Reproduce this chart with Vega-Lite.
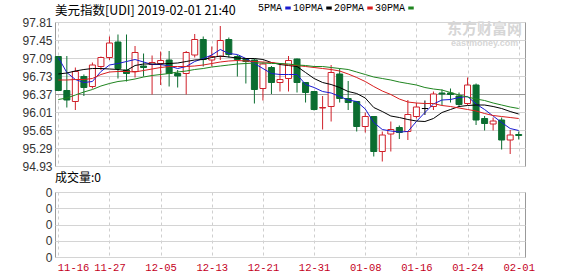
{
  "$schema": "https://vega.github.io/schema/vega-lite/v6.json",
  "autosize": {"type": "none"},
  "padding": {"left": 55, "top": 22, "right": 523, "bottom": 254},
  "background": "white",
  "title": {"text": "美元指数[UDI] 2019-02-01 21:40", "anchor": "start", "frame": "group", "font": "Noto Sans CJK SC", "fontSize": 12.5, "fontWeight": "normal", "color": "#000", "offset": 2, "dy": 16},
  "config": {
    "view": {"stroke": "#999", "strokeWidth": 1},
    "axis": {"labelFont": "Liberation Sans", "labelFontSize": 12, "labelColor": "#333", "ticks": false, "domain": false, "gridColor": "#d4d4d4", "title": null, "labelOverlap": false}
  },
  "datasets": {
    "one": [{"w": 1}],
    "k": [
      {"d":"11-16","o":97.12,"c":96.44,"h":97.12,"l":96.43,"m5":97.10,"m10":96.77,"m20":96.65,"m30":96.26,"v":0},
      {"d":"11-19","o":96.44,"c":96.25,"h":97.13,"l":96.10,"m5":96.80,"m10":96.79,"m20":96.65,"m30":96.29,"v":0},
      {"d":"11-20","o":96.22,"c":96.82,"h":96.90,"l":96.05,"m5":96.66,"m10":96.83,"m20":96.66,"m30":96.35,"v":0},
      {"d":"11-21","o":96.72,"c":96.50,"h":96.76,"l":96.33,"m5":96.60,"m10":96.86,"m20":96.66,"m30":96.41,"v":0},
      {"d":"11-23","o":96.52,"c":96.95,"h":97.00,"l":96.48,"m5":96.62,"m10":96.88,"m20":96.68,"m30":96.46,"v":0},
      {"d":"11-26","o":96.92,"c":97.10,"h":97.12,"l":96.85,"m5":96.82,"m10":96.88,"m20":96.76,"m30":96.53,"v":0},
      {"d":"11-27","o":97.10,"c":97.39,"h":97.52,"l":97.05,"m5":96.95,"m10":96.87,"m20":96.81,"m30":96.58,"v":0},
      {"d":"11-28","o":97.41,"c":96.88,"h":97.56,"l":96.68,"m5":96.98,"m10":96.86,"m20":96.82,"m30":96.62,"v":0},
      {"d":"11-29","o":96.85,"c":96.78,"h":97.56,"l":96.62,"m5":97.02,"m10":96.84,"m20":96.82,"m30":96.64,"v":0},
      {"d":"11-30","o":96.82,"c":97.20,"h":97.33,"l":96.70,"m5":97.06,"m10":96.94,"m20":96.81,"m30":96.67,"v":0},
      {"d":"12-03","o":96.93,"c":96.90,"h":97.18,"l":96.72,"m5":97.01,"m10":96.97,"m20":96.84,"m30":96.71,"v":0},
      {"d":"12-04","o":96.96,"c":97.00,"h":97.14,"l":96.36,"m5":96.96,"m10":96.97,"m20":96.87,"m30":96.74,"v":0},
      {"d":"12-05","o":96.98,"c":97.04,"h":97.22,"l":96.55,"m5":96.96,"m10":96.97,"m20":96.90,"m30":96.76,"v":0},
      {"d":"12-06","o":97.05,"c":96.78,"h":97.23,"l":96.52,"m5":96.93,"m10":96.98,"m20":96.92,"m30":96.78,"v":0},
      {"d":"12-07","o":96.78,"c":96.73,"h":96.85,"l":96.50,"m5":96.88,"m10":96.99,"m20":96.92,"m30":96.81,"v":0},
      {"d":"12-10","o":96.78,"c":97.20,"h":97.23,"l":96.36,"m5":96.92,"m10":97.02,"m20":96.92,"m30":96.83,"v":0},
      {"d":"12-11","o":97.15,"c":97.46,"h":97.57,"l":97.10,"m5":97.02,"m10":97.05,"m20":96.93,"m30":96.86,"v":0},
      {"d":"12-12","o":97.46,"c":97.06,"h":97.52,"l":96.92,"m5":97.08,"m10":97.06,"m20":96.95,"m30":96.88,"v":0},
      {"d":"12-13","o":97.05,"c":97.12,"h":97.32,"l":96.92,"m5":97.15,"m10":97.10,"m20":96.98,"m30":96.91,"v":0},
      {"d":"12-14","o":97.12,"c":97.44,"h":97.73,"l":97.05,"m5":97.26,"m10":97.13,"m20":97.01,"m30":96.93,"v":0},
      {"d":"12-17","o":97.46,"c":97.16,"h":97.50,"l":97.10,"m5":97.18,"m10":97.11,"m20":97.03,"m30":96.95,"v":0},
      {"d":"12-18","o":97.12,"c":97.06,"h":97.15,"l":96.72,"m5":97.16,"m10":97.09,"m20":97.04,"m30":96.97,"v":0},
      {"d":"12-19","o":97.06,"c":97.02,"h":97.07,"l":96.58,"m5":97.08,"m10":97.08,"m20":97.03,"m30":96.98,"v":0},
      {"d":"12-20","o":97.05,"c":96.46,"h":97.08,"l":96.18,"m5":96.98,"m10":97.08,"m20":97.02,"m30":96.99,"v":0},
      {"d":"12-21","o":96.48,"c":96.97,"h":97.00,"l":96.24,"m5":96.88,"m10":97.06,"m20":97.01,"m30":96.99,"v":0},
      {"d":"12-24","o":96.90,"c":96.60,"h":96.93,"l":96.37,"m5":96.78,"m10":97.00,"m20":97.00,"m30":96.98,"v":0},
      {"d":"12-25","o":96.60,"c":96.66,"h":96.95,"l":96.42,"m5":96.76,"m10":96.96,"m20":96.98,"m30":96.98,"v":0},
      {"d":"12-26","o":96.68,"c":97.04,"h":97.13,"l":96.42,"m5":96.76,"m10":96.94,"m20":96.95,"m30":96.97,"v":0},
      {"d":"12-27","o":97.07,"c":96.60,"h":97.08,"l":96.40,"m5":96.76,"m10":96.92,"m20":96.94,"m30":96.95,"v":0},
      {"d":"12-28","o":96.60,"c":96.40,"h":96.60,"l":96.20,"m5":96.56,"m10":96.80,"m20":96.92,"m30":96.94,"v":0},
      {"d":"12-31","o":96.42,"c":96.06,"h":96.43,"l":96.04,"m5":96.50,"m10":96.68,"m20":96.90,"m30":96.92,"v":0},
      {"d":"01-01","o":96.09,"c":96.10,"h":96.33,"l":95.66,"m5":96.42,"m10":96.60,"m20":96.88,"m30":96.92,"v":0},
      {"d":"01-02","o":96.12,"c":96.80,"h":96.95,"l":95.82,"m5":96.39,"m10":96.56,"m20":96.86,"m30":96.90,"v":0},
      {"d":"01-03","o":96.77,"c":96.28,"h":96.88,"l":96.20,"m5":96.32,"m10":96.50,"m20":96.83,"m30":96.88,"v":0},
      {"d":"01-04","o":96.28,"c":96.20,"h":96.63,"l":96.05,"m5":96.25,"m10":96.42,"m20":96.77,"m30":96.86,"v":0},
      {"d":"01-07","o":96.22,"c":95.72,"h":96.22,"l":95.62,"m5":96.22,"m10":96.38,"m20":96.70,"m30":96.81,"v":0},
      {"d":"01-08","o":95.72,"c":95.92,"h":96.00,"l":95.60,"m5":96.07,"m10":96.29,"m20":96.62,"m30":96.76,"v":0},
      {"d":"01-09","o":95.92,"c":95.22,"h":95.93,"l":95.12,"m5":95.80,"m10":96.10,"m20":96.52,"m30":96.71,"v":0},
      {"d":"01-10","o":95.22,"c":95.55,"h":95.62,"l":95.02,"m5":95.66,"m10":96.02,"m20":96.43,"m30":96.68,"v":0},
      {"d":"01-11","o":95.57,"c":95.66,"h":95.82,"l":95.22,"m5":95.63,"m10":95.93,"m20":96.36,"m30":96.65,"v":0},
      {"d":"01-14","o":95.70,"c":95.60,"h":95.74,"l":95.47,"m5":95.61,"m10":95.90,"m20":96.27,"m30":96.61,"v":0},
      {"d":"01-15","o":95.62,"c":95.96,"h":96.25,"l":95.45,"m5":95.62,"m10":95.86,"m20":96.21,"m30":96.58,"v":0},
      {"d":"01-16","o":95.92,"c":96.11,"h":96.19,"l":95.88,"m5":95.82,"m10":95.83,"m20":96.19,"m30":96.55,"v":0},
      {"d":"01-17","o":96.08,"c":96.08,"h":96.24,"l":95.95,"m5":96.00,"m10":95.82,"m20":96.18,"m30":96.50,"v":0},
      {"d":"01-18","o":96.12,"c":96.37,"h":96.42,"l":96.05,"m5":96.17,"m10":95.88,"m20":96.18,"m30":96.47,"v":0},
      {"d":"01-21","o":96.39,"c":96.37,"h":96.46,"l":96.15,"m5":96.25,"m10":96.00,"m20":96.14,"m30":96.45,"v":0},
      {"d":"01-22","o":96.39,"c":96.36,"h":96.48,"l":96.20,"m5":96.26,"m10":96.06,"m20":96.12,"m30":96.40,"v":0},
      {"d":"01-23","o":96.33,"c":96.16,"h":96.40,"l":96.12,"m5":96.30,"m10":96.12,"m20":96.09,"m30":96.35,"v":0},
      {"d":"01-24","o":96.18,"c":96.55,"h":96.70,"l":96.15,"m5":96.32,"m10":96.14,"m20":96.06,"m30":96.31,"v":0},
      {"d":"01-25","o":96.55,"c":95.85,"h":96.58,"l":95.75,"m5":96.17,"m10":96.15,"m20":96.03,"m30":96.27,"v":0},
      {"d":"01-28","o":95.88,"c":95.78,"h":95.93,"l":95.64,"m5":96.06,"m10":96.15,"m20":95.98,"m30":96.24,"v":0},
      {"d":"01-29","o":95.77,"c":95.83,"h":95.90,"l":95.64,"m5":95.93,"m10":96.12,"m20":95.94,"m30":96.19,"v":0},
      {"d":"01-30","o":95.85,"c":95.45,"h":95.90,"l":95.26,"m5":95.80,"m10":96.08,"m20":95.92,"m30":96.15,"v":0},
      {"d":"01-31","o":95.45,"c":95.55,"h":95.65,"l":95.17,"m5":95.68,"m10":96.02,"m20":95.90,"m30":96.11,"v":0},
      {"d":"02-01","o":95.56,"c":95.54,"h":95.62,"l":95.46,"m5":95.64,"m10":95.97,"m20":95.88,"m30":96.08,"v":0}
    ]
  },
  "bounds": "flush",
  "spacing": 26,
  "resolve": {"scale": {"y": "independent"}},
  "vconcat": [
    {
      "width": 470,
      "height": 144,
      "data": {"name": "k"},
      "encoding": {
        "x": {
          "field": "d", "type": "ordinal", "sort": null,
          "scale": {"type": "point", "padding": 0.563, "align": 0.344},
          "axis": {"values": ["11-16","11-27","12-05","12-13","12-21","12-31","01-08","01-16","01-24","02-01"], "labels": false, "grid": true, "gridDash": [3, 3], "gridColor": "#cfcfcf"}
        }
      },
      "layer": [
        {
          "mark": {"type": "rule", "strokeWidth": 1},
          "encoding": {
            "y": {
              "field": "l", "type": "quantitative",
              "scale": {"domain": [94.93, 97.81], "zero": false, "nice": false},
              "axis": {
                "values": [94.93, 95.29, 95.65, 96.01, 96.37, 96.73, 97.09, 97.45, 97.81],
                "tickCount": 20,
                "format": ".2f", "labelPadding": 3, "grid": true, "labelOverlap": false, "labelBound": false,
                "gridColor": {"condition": {"test": "abs(datum.value - 96.37) < 0.001", "value": "#999999"}, "value": "#d4d4d4"}
              }
            },
            "y2": {"field": "h"},
            "color": {"condition": [{"test": "datum.c > datum.o", "value": "#d0202a"}, {"test": "datum.c < datum.o", "value": "#0b6d30"}], "value": "#000000"}
          }
        },
        {
          "mark": {"type": "bar", "width": 6, "strokeWidth": 1},
          "encoding": {
            "y": {"field": "o", "type": "quantitative"},
            "y2": {"field": "c"},
            "fill": {"condition": [{"test": "datum.c > datum.o", "value": "#ffffff"}, {"test": "datum.c < datum.o", "value": "#0b6d30"}], "value": "#000000"},
            "stroke": {"condition": [{"test": "datum.c > datum.o", "value": "#d0202a"}, {"test": "datum.c < datum.o", "value": "#0b6d30"}], "value": "#000000"}
          }
        },
        {
          "mark": {"type": "line", "strokeWidth": 1},
          "encoding": {"y": {"field": "m5", "type": "quantitative"}, "color": {"datum": "5PMA"}}
        },
        {
          "mark": {"type": "line", "strokeWidth": 1},
          "encoding": {"y": {"field": "m10", "type": "quantitative"}, "color": {"datum": "10PMA"}}
        },
        {
          "mark": {"type": "line", "strokeWidth": 1},
          "encoding": {"y": {"field": "m20", "type": "quantitative"}, "color": {"datum": "20PMA"}}
        },
        {
          "mark": {"type": "line", "strokeWidth": 1},
          "encoding": {
            "y": {"field": "m30", "type": "quantitative"},
            "color": {
              "datum": "30PMA",
              "scale": {"domain": ["5PMA", "10PMA", "20PMA", "30PMA"], "range": ["#1a1ad0", "#000000", "#d81e1e", "#1f851f"]},
              "legend": {
                "title": null, "orient": "none", "legendX": 228, "legendY": -19, "direction": "horizontal",
                "symbolType": "stroke", "symbolSize": 30, "symbolStrokeWidth": 3,
                "labelFont": "Liberation Mono", "labelFontSize": 10, "labelColor": "#000",
                "labelAlign": "right", "labelOffset": -11, "columnPadding": -5
              }
            }
          }
        },
        {
          "data": {"name": "one"},
          "mark": {"type": "text", "font": "Noto Sans CJK SC", "fontSize": 15, "fontWeight": "bold", "color": "#d6d6d6"},
          "encoding": {"x": {"datum": "01-28"}, "y": {"datum": 97.67}, "text": {"value": "东方财富网"}}
        },
        {
          "data": {"name": "one"},
          "mark": {"type": "text", "font": "Liberation Sans", "fontSize": 9, "fontWeight": "bold", "color": "#d6d6d6"},
          "encoding": {"x": {"datum": "01-28"}, "y": {"datum": 97.40}, "text": {"value": "eastmoney.com"}}
        }
      ]
    },
    {
      "width": 470,
      "height": 65,
      "title": {"text": "成交量:0", "anchor": "start", "frame": "group", "font": "Noto Sans CJK SC", "fontSize": 12, "fontWeight": "normal", "color": "#000", "offset": 1},
      "data": {"name": "k"},
      "mark": {"type": "bar", "width": 6, "color": "#888"},
      "encoding": {
        "x": {
          "field": "d", "type": "ordinal", "sort": null,
          "scale": {"type": "point", "padding": 0.563, "align": 0.344},
          "axis": {"values": ["11-16","11-27","12-05","12-13","12-21","12-31","01-08","01-16","01-24","02-01"], "grid": true, "gridDash": [3, 3], "gridColor": "#cfcfcf", "labelFont": "Liberation Mono", "labelFontSize": 10.5, "labelColor": "#c4001c", "labelPadding": 5, "labelFlush": 5, "labelFlushOffset": 1, "labelAngle": 0}
        },
        "y": {
          "field": "v", "type": "quantitative",
          "scale": {"domain": [0, 4], "nice": false},
          "axis": {"values": [0, 1, 2, 3, 4], "tickCount": 20, "labelExpr": "'0'", "grid": true, "labelPadding": 3, "labelOverlap": false}
        }
      }
    }
  ]
}
